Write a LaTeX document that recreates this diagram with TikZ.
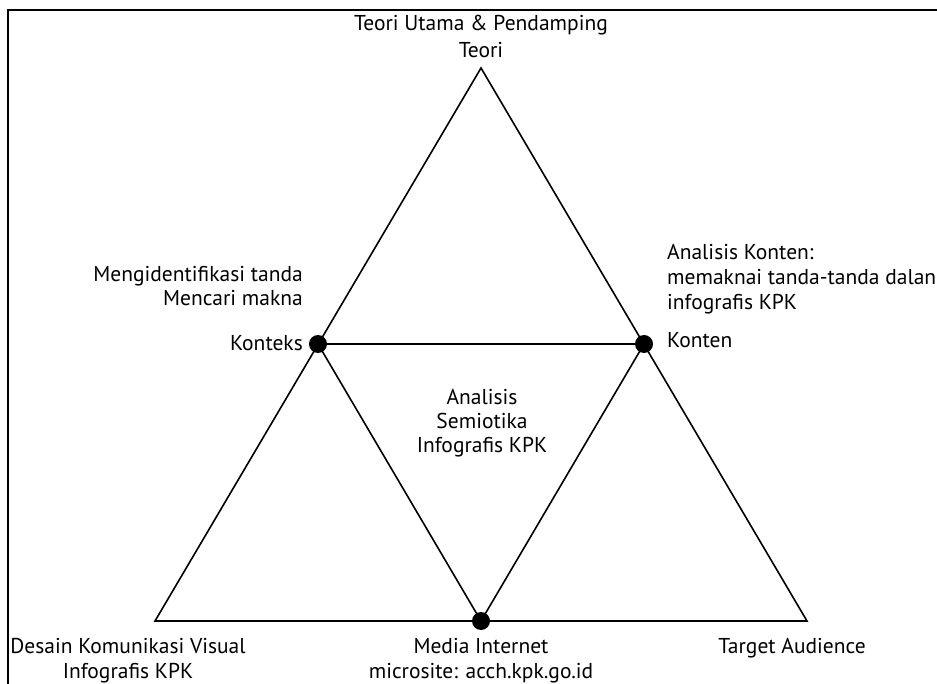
\documentclass[tikz,border=0pt]{standalone}
\usepackage{fontspec}
\setmainfont{PT Sans}
\usetikzlibrary{positioning}
\tikzset{
        garis/.style={line width=1.6pt},
        bingkai/.style={line width=2.6pt},
        titik/.style={circle, fill=black, inner sep=0pt, minimum size=18pt},
        teks/.style={font=\fontsize{21.5}{24}\selectfont, inner sep=0pt, align=center},
    }

\begin{document}
\begin{tikzpicture}[x = 1pt, y = -1pt]
                \useasboundingbox (0,0) rectangle (937,684);
                \draw[bingkai] (8,690) -- (8,10) -- (940,10);
                % sudut segitiga besar
                \coordinate (teori) at (481,68);
                \coordinate (desain) at (155,621);
                \coordinate (target) at (807,621);
                % titik tengah sisi
                \coordinate (konteks) at (318,344);
                \coordinate (konten) at (644,344);
                \coordinate (media) at (481,621);
                \draw[garis] (teori) -- (desain) -- (target) -- cycle;
                \draw[garis] (konteks) -- (konten) -- (media) -- cycle;
                \foreach \t in {konteks,konten,media}
                    \node[titik] (dot-\t) at (\t) {};
                % teks
                \node[teks] (judul) at (481,36) {Teori Utama \& Pendamping\\[3pt]Teori};
                \node[teks, align=right, anchor=east] (cari) at (303,286) {Mengidentifikasi tanda\\Mencari makna};
                \node[teks, anchor=east] (lbl-konteks) at (303,343) {Konteks};
                \node[teks, align=left, anchor=west] (analisis) at (667,279) {Analisis Konten:\\[1pt]memaknai tanda-tanda dalan\\[1pt]infografis KPK};
                \node[teks, anchor=west] (lbl-konten) at (667,340) {Konten};
                \node[teks] (semiotika) at (482,423) {Analisis\\Semiotika\\Infografis KPK};
                \node[teks] (lbl-desain) at (128,661) {Desain Komunikasi Visual\\[1pt]Infografis KPK};
                \node[teks] (lbl-media) at (481,661) {Media Internet\\[1pt]microsite: acch.kpk.go.id};
                \node[teks] (lbl-target) at (792,648) {Target Audience};
            \end{tikzpicture}
\end{document}
